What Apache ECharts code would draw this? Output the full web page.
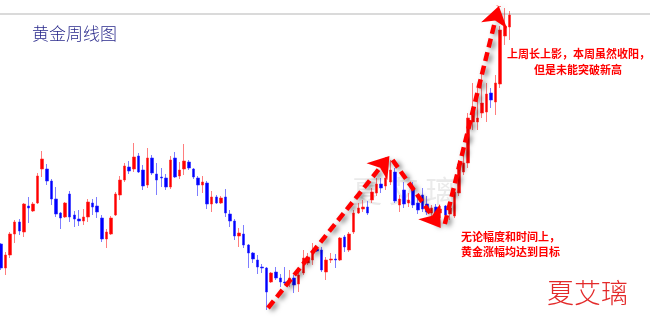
<!DOCTYPE html>
<html><head><meta charset="utf-8">
<script src="https://cdn.jsdelivr.net/npm/echarts@6/dist/echarts.min.js"></script>
<style>html,body{margin:0;padding:0;background:#fff}#c{width:650px;height:317px}</style>
</head><body><div id="c"></div>
<script>
// Weekly gold candles (price units, arbitrary scale)
const opens = [156,132,145,166,178,168,194,189,197,231, 231,219,201,187,183,206,185,181,179,183, 197,194,182,161,166,185,205,220,233,231, 244,230,215,242,226,223,222,213,242,224, 231,238,231,222,215,217,196,203,197,203, 186,179,164,166,155,147,140,133,132,118, 128,122,118,117,122,116,127,137,140,151, 150,128,140,141,140,163,150,168,187,191, 193,200,207,216,214,218,228,195,210,197, 212,197,205,196,187,193,187,194,186,184, 207,228,237,278,278,287,288,307,298,316, 364,373];
const closes = [132,145,166,178,169,196,192,196,224,241, 219,201,186,182,197,183,181,179,183,198, 193,188,161,168,182,206,220,234,229,243, 228,214,242,227,220,222,213,240,223,230, 239,232,223,215,218,196,203,197,202,187, 179,164,167,155,147,141,133,132,108,127, 122,118,117,122,115,125,142,143,147,149, 130,140,141,140,162,153,166,187,192,193, 187,208,216,212,222,230,199,201,196,200, 195,190,191,188,192,186,191,185,192,208, 236,237,282,292,282,297,306,300,317,370, 374,385];
const lows = [130,125,142,157,165,163,177,188,196,223, 215,195,183,171,182,178,173,174,175,178, 185,182,158,152,165,184,200,218,226,228, 227,210,212,225,205,213,210,211,222,221, 225,230,221,204,207,191,188,196,196,183, 173,160,153,152,132,137,126,127,90,117, 120,113,116,113,107,108,125,135,135,148, 128,120,137,132,139,148,148,166,186,188, 185,197,204,207,210,215,197,188,192,193, 192,186,188,185,184,180,182,183,180,182, 204,225,232,270,270,282,278,292,285,312, 355,360];
const highs = [157,148,168,180,181,197,203,198,227,249, 236,221,213,188,198,209,189,190,191,201, 201,203,185,171,184,208,224,237,239,257, 247,235,252,245,237,232,226,244,248,238, 256,240,232,224,224,219,209,205,204,211, 190,181,172,175,156,148,145,136,133,128, 133,126,133,130,125,132,150,147,157,153, 153,143,147,146,163,165,168,190,197,200, 199,212,222,222,230,240,232,205,218,207, 218,205,212,204,195,196,194,195,196,210, 240,248,287,317,312,327,317,312,325,374, 392,389];
const weeks = opens.map((_, i) => 'W' + (i + 1));

// Trend arrows: [weekIndex, price] start -> end
const arrowUp1 = [[58.3, 92], [84.8, 244]];
const arrowDown = [[85.5, 240], [96.0, 172]];
const arrowUp2 = [[96.9, 176], [108.7, 394]];

const titleText = '黄金周线图';
const note1 = ['上周长上影，本周虽然收阳，', '但是未能突破新高'];
const note2 = ['无论幅度和时间上，', '黄金涨幅均达到目标'];
const signature = '夏艾璃';

const ohlc = opens.map((o, i) => [o, closes[i], lows[i], highs[i]]);
const FONT = '"Noto Sans CJK SC", sans-serif';

const chart = echarts.init(document.getElementById('c'), null, {renderer: 'canvas'});
chart.setOption({
  animation: false,
  backgroundColor: '#ffffff',
  title: {
    text: titleText, left: 27, top: 20,
    textStyle: {color: '#2a2a8c', fontSize: 17, fontWeight: 300, fontFamily: FONT}
  },
  grid: {left: -1.3, top: 0, width: 513, height: 317, outerBoundsMode: 'none'},
  xAxis: [
    {type: 'category', data: weeks, show: false, boundaryGap: true},
    {type: 'value', min: -0.5, max: 111.5, show: false}
  ],
  yAxis: {type: 'value', min: 83, max: 400, show: false},
  graphic: [
    {type: 'line', z: 0, shape: {x1: 0, y1: 14, x2: 650, y2: 14}, style: {stroke: '#dadada', lineWidth: 2}},
    {type: 'text', z: 1, x: 352, y: 176, style: {text: '夏 艾 璃', fill: 'rgba(160,160,160,0.22)', font: '30px ' + FONT}},
    {type: 'text', z: 10, x: 507, y: 48, style: {text: note1[0], fill: '#ff0000', font: 'bold 11px ' + FONT}},
    {type: 'text', z: 10, x: 578, y: 64, style: {text: note1[1], fill: '#ff0000', textAlign: 'center', font: 'bold 11px ' + FONT}},
    {type: 'text', z: 10, x: 461, y: 231, style: {text: note2[0], fill: '#ff0000', font: 'bold 11px ' + FONT}},
    {type: 'text', z: 10, x: 461, y: 246, style: {text: note2[1], fill: '#ff0000', font: 'bold 11px ' + FONT}},
    {type: 'text', z: 10, x: 547, y: 279, style: {text: signature, fill: '#e32a2a', font: '300 27px ' + FONT}}
  ],
  series: [
    {
      type: 'candlestick', data: ohlc, barWidth: 3, z: 3,
      itemStyle: {
        color: '#ff0000', color0: '#0000ff',
        borderColor: 'rgba(255,40,40,0.6)', borderColor0: 'rgba(40,40,255,0.6)', borderWidth: 1
      }
    },
    {
      type: 'lines', coordinateSystem: 'cartesian2d', xAxisIndex: 1, yAxisIndex: 0, z: 5,
      symbol: ['none', 'arrow'], symbolSize: [16, 20], silent: true,
      lineStyle: {
        color: '#ff0000', width: 4.5, type: [9, 5], opacity: 1,
        shadowColor: 'rgba(0,0,0,0.5)', shadowBlur: 5, shadowOffsetX: 3, shadowOffsetY: 2
      },
      data: [{coords: arrowUp1}, {coords: arrowDown}, {coords: arrowUp2}]
    }
  ]
});
</script>
</body></html>
